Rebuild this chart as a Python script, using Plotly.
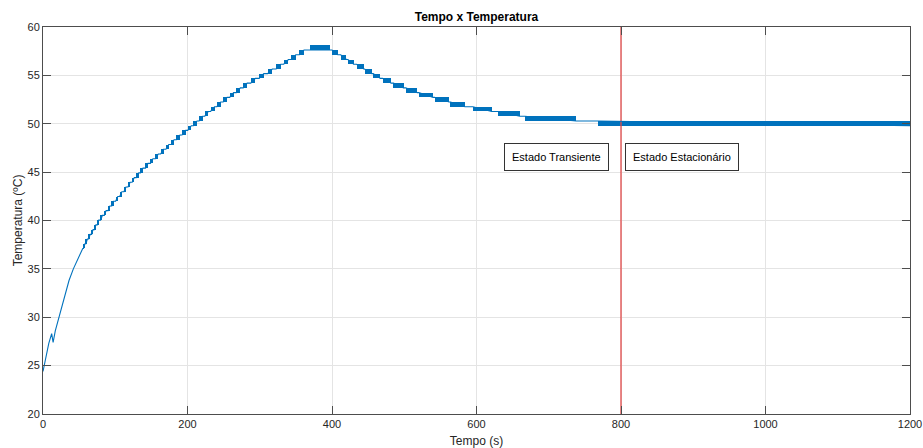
import plotly.graph_objects as go

# ---------------- data ----------------
# Early, steep part of the heating curve (time s, temperature °C)
early_t = [0, 2, 5, 8, 12, 14, 17, 22, 26, 31, 36, 42, 49, 55]
early_c = [24.4, 25.1, 26.2, 27.3, 28.3, 27.4, 28.6, 30.0, 31.2, 32.5, 33.8, 35.0, 36.2, 37.11]

# Heating: quantised sensor levels (°C) and the windows where the reading
# flickers between two neighbouring levels (centre time s, duration s)
rise_level_c = [37.11, 37.60, 38.09, 38.57, 39.06, 39.55, 40.04, 40.53, 41.02, 41.50,
                41.99, 42.48, 42.97, 43.46, 43.95, 44.43, 44.92, 45.41, 45.90, 46.39,
                46.88, 47.36, 47.85, 48.34, 48.83, 49.32, 49.80, 50.29, 50.78, 51.27,
                51.76, 52.25, 52.73, 53.22, 53.71, 54.20, 54.69, 55.18, 55.66, 56.15,
                56.64, 57.13, 57.62]
rise_flicker_t = [57.0, 60.4, 64.3, 68.3, 72.2, 76.1, 81.0, 86.1, 91.3, 96.4,
                  102.0, 107.6, 113.4, 119.1, 124.9, 130.8, 136.6, 143.6, 150.4, 157.6,
                  164.8, 172.1, 179.4, 187.1, 194.9, 202.8, 210.7, 218.5, 226.4, 234.7,
                  243.3, 252.1, 261.1, 270.4, 279.9, 290.8, 302.4, 314.1, 325.9, 336.4,
                  346.7, 358.0]
rise_flicker_s = [2, 2, 2, 2, 2, 2, 2.5, 2.5, 2.5, 2.5,
                  3, 3, 3, 3, 3, 3.5, 3.5, 3.5, 3.5, 4,
                  4, 4, 4, 5, 5, 5, 5, 5, 5, 5.5,
                  5.5, 5.5, 5.5, 5.5, 5.5, 6.5, 6.5, 6.5, 6.5, 6.5,
                  6.5, 6.5]

# Peak plateau (flicker between two levels)
peak_start_s = 369
peak_end_s = 397
peak_low_c = 57.62
peak_high_c = 58.11

# Cooling: levels (°C) and flicker windows (start s, end s)
decay_level_c = [57.62, 57.13, 56.64, 56.15, 55.66, 55.18, 54.69, 54.20, 53.71,
                 53.22, 52.73, 52.25, 51.76, 51.27, 50.78, 50.29, 49.80]
decay_start_s = [400, 412, 422, 434, 445, 457, 470, 485, 502, 520, 542, 564, 595, 630, 667, 768]
decay_end_s = [408, 420, 430, 444, 455, 467, 482, 499, 518, 540, 562, 584, 621, 660, 738, 1200]

steady_start_s = 800          # transient / steady-state boundary
label_transient = "Estado Transiente"
label_steady = "Estado Estacionário"

# ---------------- build traces ----------------
BLUE = "#0072BD"

line_x = list(early_t)
line_y = list(early_c)
blk_x, blk_w, blk_base, blk_h = [], [], [], []

for i, tc in enumerate(rise_flicker_t):
    a, b = tc - rise_flicker_s[i] / 2, tc + rise_flicker_s[i] / 2
    lo, hi = rise_level_c[i], rise_level_c[i + 1]
    line_x += [a, b]
    line_y += [lo, hi]
    blk_x.append(tc); blk_w.append(b - a); blk_base.append(lo); blk_h.append(hi - lo)

line_x += [peak_start_s, peak_end_s]
line_y += [peak_low_c, peak_low_c]
blk_x.append((peak_start_s + peak_end_s) / 2)
blk_w.append(peak_end_s - peak_start_s)
blk_base.append(peak_low_c)
blk_h.append(peak_high_c - peak_low_c)

for j in range(len(decay_start_s)):
    a, b = decay_start_s[j], decay_end_s[j]
    hi, lo = decay_level_c[j], decay_level_c[j + 1]
    line_x += [a, b]
    line_y += [hi, lo]
    blk_x.append((a + b) / 2); blk_w.append(b - a); blk_base.append(lo); blk_h.append(hi - lo)

fig = go.Figure()

fig.add_trace(go.Scatter(x=[steady_start_s, steady_start_s], y=[20, 60], mode="lines",
                         line=dict(color="#E04848", width=1.3), hoverinfo="skip",
                         showlegend=False))
fig.add_trace(go.Bar(x=blk_x, y=blk_h, base=blk_base, width=blk_w,
                     marker=dict(color=BLUE, line=dict(width=0)), showlegend=False))
fig.add_trace(go.Scatter(x=line_x, y=line_y, mode="lines",
                         line=dict(color=BLUE, width=1.1), showlegend=False))

FONT = "Liberation Sans, Arial, Helvetica, sans-serif"
AX = "#4d4d4d"
GRID = "#e4e4e4"

axis_common = dict(showline=True, linecolor=AX, linewidth=1, mirror="allticks",
                   ticks="inside", ticklen=8, tickcolor=AX, tickwidth=1,
                   showgrid=True, gridcolor=GRID, gridwidth=1, zeroline=False,
                   tickfont=dict(family=FONT, size=11, color="#262626"))

fig.update_layout(
    width=923, height=448,
    margin=dict(l=43, r=13, t=27, b=34, autoexpand=False),
    paper_bgcolor="white", plot_bgcolor="white",
    font=dict(family=FONT, color="#262626"),
    barmode="overlay", bargap=0,
    title=dict(text="<b>Tempo x Temperatura</b>", x=0.5, xref="paper",
               y=1 - 17 / 448, yref="container", yanchor="middle",
               font=dict(family=FONT, size=12, color="#000000")),
    xaxis=dict(range=[0, 1200], tick0=0, dtick=200,
               title=dict(text="Tempo (s)", standoff=7, font=dict(family=FONT, size=12)),
               **axis_common),
    yaxis=dict(range=[20, 60], tick0=20, dtick=5,
               title=dict(text="Temperatura (ºC)", standoff=2, font=dict(family=FONT, size=12)),
               **axis_common),
    annotations=[
        dict(x=711, y=46.55, xref="x", yref="y", text=label_transient, showarrow=False,
             font=dict(family=FONT, size=11, color="#000000"),
             bgcolor="white", bordercolor="#333333", borderwidth=1, borderpad=7),
        dict(x=884.6, y=46.55, xref="x", yref="y", text=label_steady, showarrow=False,
             font=dict(family=FONT, size=11, color="#000000"),
             bgcolor="white", bordercolor="#333333", borderwidth=1, borderpad=7),
    ],
)

fig.write_html("out.html")
